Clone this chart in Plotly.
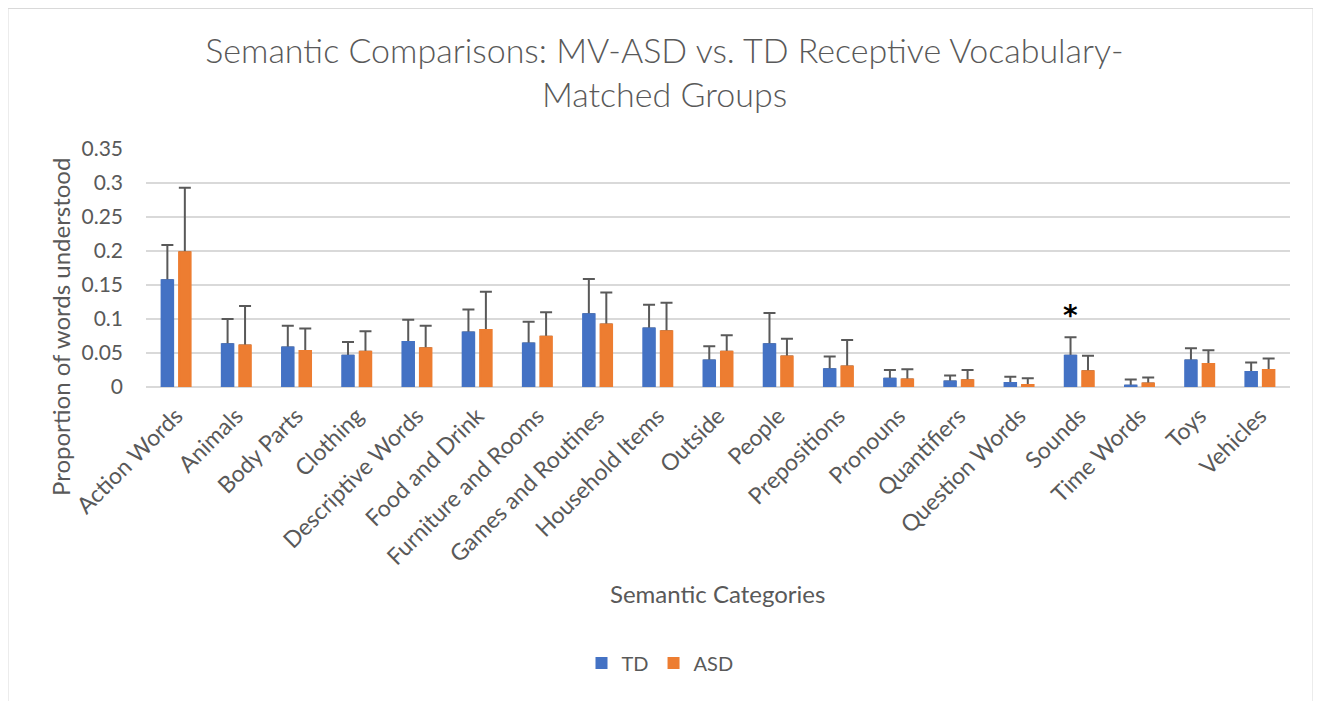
import plotly.graph_objects as go

categories = [
    "Action Words", "Animals", "Body Parts", "Clothing", "Descriptive Words",
    "Food and Drink", "Furniture and Rooms", "Games and Routines", "Household Items",
    "Outside", "People", "Prepositions", "Pronouns", "Quantifiers", "Question Words",
    "Sounds", "Time Words", "Toys", "Vehicles",
]

td_mean = [0.157, 0.063, 0.058, 0.046, 0.066, 0.080, 0.064, 0.107, 0.086, 0.039,
           0.063, 0.026, 0.012, 0.008, 0.006, 0.046, 0.002, 0.039, 0.022]
td_top = [0.209, 0.100, 0.090, 0.066, 0.099, 0.114, 0.096, 0.159, 0.121, 0.060,
          0.109, 0.045, 0.025, 0.017, 0.015, 0.073, 0.011, 0.057, 0.036]

asd_mean = [0.198, 0.061, 0.053, 0.052, 0.057, 0.084, 0.074, 0.092, 0.082, 0.052,
            0.045, 0.030, 0.011, 0.010, 0.003, 0.023, 0.005, 0.034, 0.025]
asd_top = [0.293, 0.119, 0.086, 0.082, 0.090, 0.140, 0.110, 0.139, 0.124, 0.076,
           0.071, 0.069, 0.026, 0.025, 0.013, 0.046, 0.014, 0.054, 0.042]

td_err = [t - m for t, m in zip(td_top, td_mean)]
asd_err = [t - m for t, m in zip(asd_top, asd_mean)]

BLUE = "#4472C4"
ORANGE = "#ED7D31"
GREY = "#595959"
FONT = "Lato"

# the page body has an 8px margin, so the figure is drawn 8px in from the corner
W, H = 1313, 693
PL, PR, PT, PB = 146, 1290, 149, 387   # plot area in page pixels


def px(x):
    return (x - PL) / (PR - PL)


def py(y):
    return (PB - y) / (PB - PT)


fig = go.Figure()

# bars with their upper error bars
for name, mean, err, color in [("TD", td_mean, td_err, BLUE), ("ASD", asd_mean, asd_err, ORANGE)]:
    fig.add_bar(
        x=categories, y=mean, name=name, offsetgroup=name,
        marker=dict(color=color, line=dict(width=0)),
        error_y=dict(type="data", symmetric=False, array=err, arrayminus=[0] * len(err),
                     color=GREY, thickness=2, width=6),
    )

# same bars again on top, hiding the zero-length lower caps
for name, mean, color in [("TD", td_mean, BLUE), ("ASD", asd_mean, ORANGE)]:
    fig.add_bar(
        x=categories, y=mean, name=name, offsetgroup=name, showlegend=False,
        marker=dict(color=color, line=dict(width=2, color=color)), hoverinfo="skip",
    )

fig.update_layout(
    width=W, height=H,
    paper_bgcolor="white", plot_bgcolor="white",
    font=dict(family=FONT, color=GREY, size=20),
    barmode="group", bargap=0.42, bargroupgap=0.34,
    margin=dict(l=PL - 8, r=W - (PR - 8), t=PT - 8, b=H - (PB - 8)),
    title=dict(
        text="Semantic Comparisons: MV-ASD vs. TD Receptive Vocabulary-<br>Matched Groups",
        x=0.5, xanchor="center", y=1 - 55 / H, yanchor="middle",
        font=dict(family=FONT, size=34, color=GREY, weight=300),
    ),
    legend=dict(
        orientation="h", x=px(660), xanchor="center", y=py(663), yanchor="middle",
        font=dict(size=20, color=GREY), traceorder="normal",
    ),
    showlegend=True,
)

fig.update_xaxes(
    tickangle=-45, tickfont=dict(size=23, color=GREY), showgrid=False,
    showline=False, ticks="", ticklabelstandoff=10,
)
fig.update_yaxes(
    range=[0, 0.35], showgrid=True,
    gridcolor="#D9D9D9", gridwidth=1.5, zeroline=True, zerolinecolor="#D9D9D9",
    zerolinewidth=1.5, tickfont=dict(size=21, color=GREY), ticks="", showline=False,
    tickvals=[0, 0.05, 0.1, 0.15, 0.2, 0.25, 0.3, 0.35],
    ticktext=["0", "0.05", "0.1", "0.15", "0.2", "0.25", "0.3", "0.35"],
    ticklabelstandoff=22,
)

fig.add_annotation(
    text="Proportion of words understood", textangle=-90,
    xref="paper", yref="paper", x=px(60), y=py(327),
    xanchor="center", yanchor="middle", showarrow=False,
    font=dict(size=24, color=GREY),
)
fig.add_annotation(
    text="Semantic Categories", xref="paper", yref="paper",
    x=px(717), y=py(593),
    xanchor="center", yanchor="middle", showarrow=False,
    font=dict(size=24, color=GREY),
)
fig.add_annotation(
    text="<b>*</b>", x="Sounds", y=0.105, xshift=-9, showarrow=False,
    yanchor="middle", font=dict(size=28, color="black", family="DejaVu Sans"),
)

# chart area border
fig.add_shape(
    type="rect", xref="paper", yref="paper",
    x0=px(8), x1=px(1313), y0=py(720), y1=py(8.5),
    line=dict(color="#D9D9D9", width=1), fillcolor="rgba(0,0,0,0)", layer="below",
)

fig.write_html("out.html")
